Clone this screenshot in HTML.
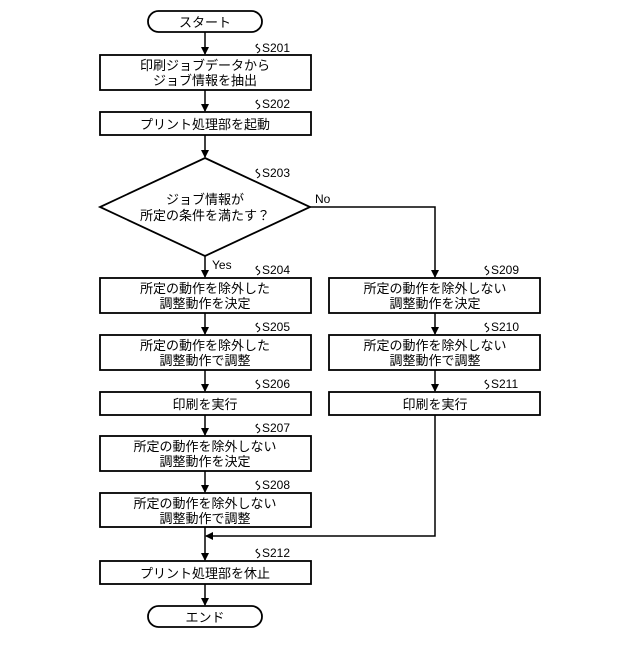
<!DOCTYPE html>
<html><head><meta charset="utf-8"><style>body{margin:0;background:#fff}</style></head><body>
<svg width="640" height="640" xmlns="http://www.w3.org/2000/svg" font-family="'Liberation Sans','Noto Sans CJK JP',sans-serif">
<defs><marker id="a" markerWidth="8" markerHeight="8" refX="7" refY="4" orient="auto" markerUnits="userSpaceOnUse"><path d="M0,0 L8,4 L0,8 z" fill="#000"/></marker></defs>
<g fill="none" stroke="#000" stroke-width="1.8">
<rect x="148" y="11" width="114" height="21" rx="10.5"/>
<rect x="100" y="55" width="211" height="35"/>
<rect x="100" y="112" width="211" height="23"/>
<polygon points="205,158 310,207 205,256 100,207"/>
<rect x="100" y="278" width="211" height="35"/>
<rect x="100" y="335" width="211" height="35"/>
<rect x="100" y="392" width="211" height="23"/>
<rect x="100" y="436" width="211" height="35"/>
<rect x="100" y="493" width="211" height="34"/>
<rect x="100" y="561" width="211" height="23"/>
<rect x="148" y="606" width="114" height="21" rx="10.5"/>
<rect x="329" y="278" width="211" height="35"/>
<rect x="329" y="335" width="211" height="35"/>
<rect x="329" y="392" width="211" height="23"/>
</g>
<g stroke="#000" stroke-width="1.5" marker-end="url(#a)">
<line x1="205" y1="32" x2="205" y2="54"/>
<line x1="205" y1="90" x2="205" y2="111"/>
<line x1="205" y1="135" x2="205" y2="157"/>
<line x1="205" y1="256" x2="205" y2="277"/>
<line x1="205" y1="313" x2="205" y2="334"/>
<line x1="205" y1="370" x2="205" y2="391"/>
<line x1="205" y1="415" x2="205" y2="435"/>
<line x1="205" y1="471" x2="205" y2="492"/>
<line x1="205" y1="527" x2="205" y2="560"/>
<line x1="205" y1="584" x2="205" y2="605"/>
<polyline fill="none" points="310,207 435,207 435,277"/>
<line x1="435" y1="313" x2="435" y2="334"/>
<line x1="435" y1="370" x2="435" y2="391"/>
<polyline fill="none" points="435,415 435,536 206,536"/>
</g>
<g font-size="13" text-anchor="middle" fill="#000">
<text x="205" y="27">スタート</text>
<text x="205" y="70">印刷ジョブデータから</text><text x="205" y="85">ジョブ情報を抽出</text>
<text x="205" y="129">プリント処理部を起動</text>
<text x="205" y="204">ジョブ情報が</text><text x="205" y="220">所定の条件を満たす？</text>
<text x="205" y="293">所定の動作を除外した</text><text x="205" y="308">調整動作を決定</text>
<text x="205" y="350">所定の動作を除外した</text><text x="205" y="365">調整動作で調整</text>
<text x="205" y="409">印刷を実行</text>
<text x="205" y="451">所定の動作を除外しない</text><text x="205" y="466">調整動作を決定</text>
<text x="205" y="508">所定の動作を除外しない</text><text x="205" y="523">調整動作で調整</text>
<text x="205" y="578">プリント処理部を休止</text>
<text x="205" y="622">エンド</text>
<text x="435" y="293">所定の動作を除外しない</text><text x="435" y="308">調整動作を決定</text>
<text x="435" y="350">所定の動作を除外しない</text><text x="435" y="365">調整動作で調整</text>
<text x="435" y="409">印刷を実行</text>
</g>
<g font-size="12" fill="#000">
<text x="315" y="203">No</text><text x="212" y="269">Yes</text>
<text x="262" y="52">S201</text><text x="262" y="108">S202</text><text x="262" y="177">S203</text>
<text x="262" y="274">S204</text><text x="262" y="331">S205</text><text x="262" y="388">S206</text>
<text x="262" y="432">S207</text><text x="262" y="489">S208</text><text x="262" y="557">S212</text>
<text x="491" y="274">S209</text><text x="491" y="331">S210</text><text x="491" y="388">S211</text>
</g>
<g fill="none" stroke="#000" stroke-width="1">
<path d="M258,44 q-4,2 0,4 q4,2 -1,5"/><path d="M258,100 q-4,2 0,4 q4,2 -1,5"/><path d="M258,169 q-4,2 0,4 q4,2 -1,5"/>
<path d="M258,266 q-4,2 0,4 q4,2 -1,5"/><path d="M258,323 q-4,2 0,4 q4,2 -1,5"/><path d="M258,380 q-4,2 0,4 q4,2 -1,5"/>
<path d="M258,424 q-4,2 0,4 q4,2 -1,5"/><path d="M258,481 q-4,2 0,4 q4,2 -1,5"/><path d="M258,549 q-4,2 0,4 q4,2 -1,5"/>
<path d="M487,266 q-4,2 0,4 q4,2 -1,5"/><path d="M487,323 q-4,2 0,4 q4,2 -1,5"/><path d="M487,380 q-4,2 0,4 q4,2 -1,5"/>
</g>
</svg>
</body></html>
